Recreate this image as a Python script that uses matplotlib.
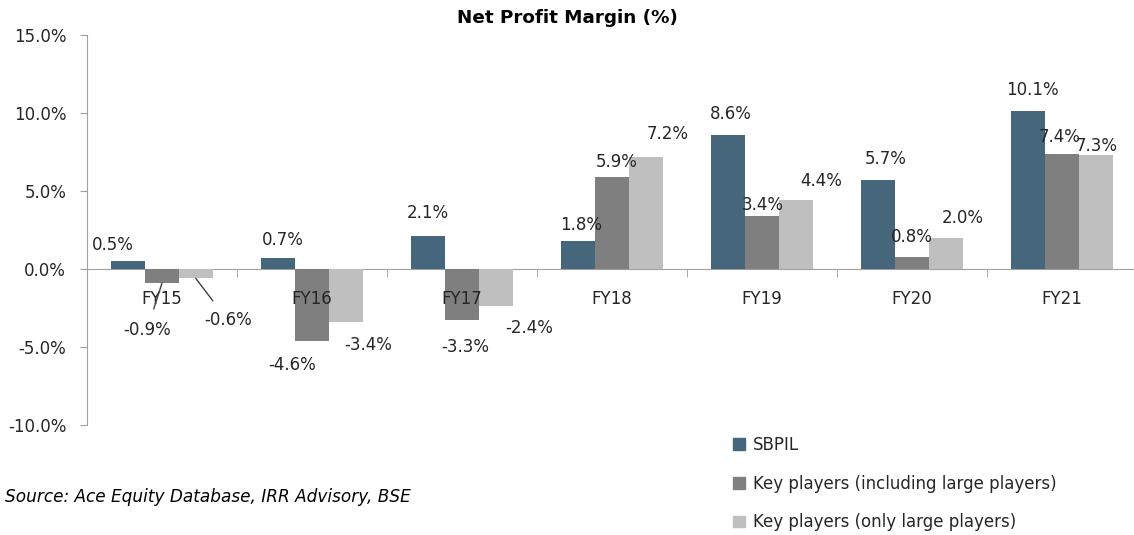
import numpy as np
import matplotlib
matplotlib.use("Agg")
import matplotlib.pyplot as plt
from matplotlib.patches import Patch

# --- data ---
years = ["FY15", "FY16", "FY17", "FY18", "FY19", "FY20", "FY21"]
sbpil = [0.5, 0.7, 2.1, 1.8, 8.6, 5.7, 10.1]
key_incl = [-0.9, -4.6, -3.3, 5.9, 3.4, 0.8, 7.4]
key_large = [-0.6, -3.4, -2.4, 7.2, 4.4, 2.0, 7.3]
series_names = ["SBPIL", "Key players (including large players)", "Key players (only large players)"]

# label offsets (pixels) from the bar end, as moved by hand in the original
off_sbpil = [(-15, 16), (5, 18), (0, 23), (3, 16), (3, 21), (7, 21), (4, 21)]
off_incl = [(-15, -47), (-20, -24), (3, -27), (5, 15), (1, 11), (0, 20), (-2, 17)]
off_large = [(32, -42), (22, -23), (33, -22), (22, 23), (25, 19), (17, 20), (1, 9)]

COLORS = ["#46677B", "#7F7F7F", "#BFBFBF"]
TEXT = "#262626"
FS = 12

plt.rcParams["font.family"] = "DejaVu Sans"

fig = plt.figure(figsize=(11.34, 5.35), dpi=100)
ax = fig.add_axes([87 / 1134, 1 - 425 / 535, 1 - 87 / 1134, 390 / 535])
ax.set_axisbelow(False)

x = np.arange(len(years))
w = 0.225
all_series = [sbpil, key_incl, key_large]
all_offsets = [off_sbpil, off_incl, off_large]
for k, (vals, offs) in enumerate(zip(all_series, all_offsets)):
    xs = x + (k - 1) * w
    ax.bar(xs, vals, width=w, color=COLORS[k], zorder=2)
    for i, (xi, v) in enumerate(zip(xs, vals)):
        dx, dy = offs[i]
        if k > 0 and i == 0:
            # leader line for the FY15 negative labels
            ax.annotate(f"{v:.1f}%", xy=(xi, v),
                        xytext=(dx, dy), textcoords="offset pixels",
                        ha="center", va="center", fontsize=FS, color=TEXT,
                        arrowprops=dict(arrowstyle="-", color="#404040", lw=1,
                                        shrinkA=7, shrinkB=0))
        else:
            ax.annotate(f"{v:.1f}%", xy=(xi, v), xytext=(dx, dy),
                        textcoords="offset pixels", ha="center", va="center",
                        fontsize=FS, color=TEXT)

ax.set_xlim(-0.5, 6.48)
ax.set_ylim(-10, 15)
ax.set_yticks(np.arange(-10, 16, 5))
ax.set_yticklabels([f"{t:.1f}%" for t in np.arange(-10, 16, 5)])

ax.set_xticks(x)
ax.set_xticklabels(years)
ax.set_xticks(np.arange(0.5, 6.5, 1), minor=True)
ax.tick_params(axis="x", which="major", length=0, pad=15, labelsize=FS, labelcolor=TEXT)
ax.tick_params(axis="x", which="minor", length=6, color="#A0A0A0", direction="out")
ax.tick_params(axis="y", length=5, color="#A0A0A0", labelsize=FS, labelcolor=TEXT, pad=10)

for s in ["top", "right"]:
    ax.spines[s].set_visible(False)
ax.spines["bottom"].set_position(("data", 0))
ax.spines["bottom"].set_color("#A0A0A0")
ax.spines["left"].set_color("#A0A0A0")
ax.spines["bottom"].set_zorder(1)

fig.text(567 / 1134, 1 - 18 / 535, "Net Profit Margin (%)", ha="center", va="center",
         fontsize=13.2, fontweight="bold", color="#000000")
fig.text(5 / 1134, 1 - 497 / 535, "Source: Ace Equity Database, IRR Advisory, BSE",
         ha="left", va="center", fontsize=12.2, style="italic", color="#000000")

handles = [Patch(color=c) for c in COLORS]
fig.legend(handles, series_names, loc="upper left", bbox_to_anchor=(733 / 1134, 1 - 436 / 535),
           frameon=False, fontsize=FS, labelspacing=1.24, handlelength=0.7, handleheight=0.7,
           handletextpad=0.5, borderaxespad=0, borderpad=0, labelcolor=TEXT)

fig.savefig("out.png", dpi=100)
